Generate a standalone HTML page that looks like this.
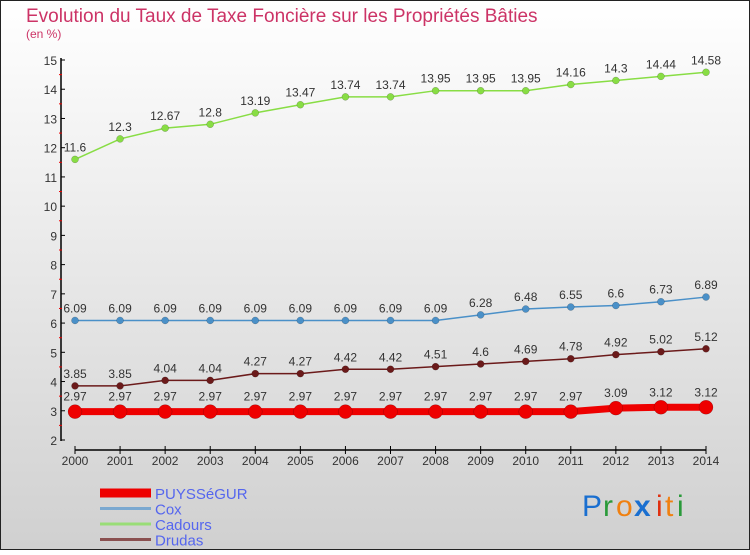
<!DOCTYPE html>
<html><head><meta charset="utf-8"><style>
body{margin:0;width:750px;height:550px;overflow:hidden;font-family:"Liberation Sans",sans-serif}
</style></head><body>
<svg width="750" height="550" xmlns="http://www.w3.org/2000/svg">
<defs><linearGradient id="bg" x1="0" y1="0" x2="0" y2="1"><stop offset="0" stop-color="#ffffff"/><stop offset="1" stop-color="#d0d0d0"/></linearGradient></defs>
<rect x="0.5" y="0.5" width="749" height="549" fill="url(#bg)" stroke="#222"/>
<text x="26" y="22" font-size="19" fill="#cc3366">Evolution du Taux de Taxe Foncière sur les Propriétés Bâties</text>
<text x="26" y="38" font-size="12" fill="#cc3366">(en %)</text>
<g id="axes"></g><g id="series"></g><g id="legend"></g>
<g font-size="30" font-family="Liberation Sans,sans-serif">
<text x="582" y="516" fill="#1a6fd0">P</text><text x="603" y="516" fill="#2a9a3a">r</text><text x="616" y="516" fill="#f08010">o</text><text x="634" y="516" fill="#1a6fd0" font-weight="bold">x</text><text x="656" y="516" fill="#e03010">i</text><text x="665" y="516" fill="#f08010">t</text><text x="677" y="516" fill="#2a9a3a">i</text>
</g>
</svg>
<script>
const years=[2000,2001,2002,2003,2004,2005,2006,2007,2008,2009,2010,2011,2012,2013,2014];
const puy=[2.97,2.97,2.97,2.97,2.97,2.97,2.97,2.97,2.97,2.97,2.97,2.97,3.09,3.12,3.12];
const cox=[6.09,6.09,6.09,6.09,6.09,6.09,6.09,6.09,6.09,6.28,6.48,6.55,6.6,6.73,6.89];
const cad=[11.6,12.3,12.67,12.8,13.19,13.47,13.74,13.74,13.95,13.95,13.95,14.16,14.3,14.44,14.58];
const dru=[3.85,3.85,4.04,4.04,4.27,4.27,4.42,4.42,4.51,4.6,4.69,4.78,4.92,5.02,5.12];
const yTicks=[2,3,4,5,6,7,8,9,10,11,12,13,14,15];
const NS="http://www.w3.org/2000/svg";
const X=i=>75+i*(631/14), Y=v=>440-(v-2)*(380/13);
function mk(t,a,p){const e=document.createElementNS(NS,t);for(const k in a)e.setAttribute(k,a[k]);p.appendChild(e);return e;}
const ax=document.getElementById('axes');
let e=mk('line',{x1:61,y1:58,x2:61,y2:441,stroke:'#000','stroke-width':1.5},ax);


yTicks.forEach(v=>{mk('line',{x1:61,y1:Y(v),x2:65,y2:Y(v),stroke:'#000'},ax);
 if(v<15)mk('line',{x1:59,y1:Y(v+0.5),x2:62,y2:Y(v+0.5),stroke:'#e00'},ax);
 const t=mk('text',{x:57,y:Y(v)+5,'font-size':12,fill:'#333','text-anchor':'end'},ax);t.textContent=v;
 
 });
e=mk('line',{x1:X(0),y1:450,x2:X(14),y2:450,stroke:'#000','stroke-width':1.5},ax);


years.forEach((y,i)=>{mk('line',{x1:X(i),y1:446,x2:X(i),y2:454,stroke:'#000'},ax);
 const t=mk('text',{x:X(i),y:465,'font-size':12,fill:'#333','text-anchor':'middle'},ax);t.textContent=y;
 
 });
const sg=document.getElementById('series');
function series(data,color,w,r,name,lblOff){
 const g=mk('g',{},sg);
 
 
 mk('polyline',{points:data.map((v,i)=>X(i)+','+Y(v)).join(' '),fill:'none',stroke:color,'stroke-width':w},g);
 data.forEach((v,i)=>{const c=mk('circle',{cx:X(i),cy:Y(v),r:r,fill:color,stroke:'rgba(0,0,0,0.3)','stroke-width':0.5},g);
  
  
  const t=mk('text',{x:X(i),y:Y(v)+lblOff,'font-size':12,fill:'#333','text-anchor':'middle'},g);t.textContent=String(v).replace('.', '.');
  
  });
}
series(cad,'#88dd44',1.5,3.5,'cadours-series',-8);
series(cox,'#4a90c8',1.5,3.5,'cox-series',-8);
series(dru,'#6b1a1a',1.5,3.5,'drudas-series',-8);
series(puy,'#ee0000',7,7,'puyssegur-series',-11);
const lg=document.getElementById('legend');
const L=[['PUYSSéGUR','#ee0000',9],['Cox','#7aa8d0',3],['Cadours','#99dd77',3],['Drudas','#8a5050',3]];
L.forEach((l,i)=>{const y=493+i*15.5;const g=mk('g',{},lg);
 
 
 mk('line',{x1:100,y1:y,x2:151,y2:y,stroke:l[1],'stroke-width':l[2]},g);
 const t=mk('text',{x:155,y:y+6,'font-size':15,fill:'#5566ee'},g);t.textContent=l[0];});
</script>
</body></html>
